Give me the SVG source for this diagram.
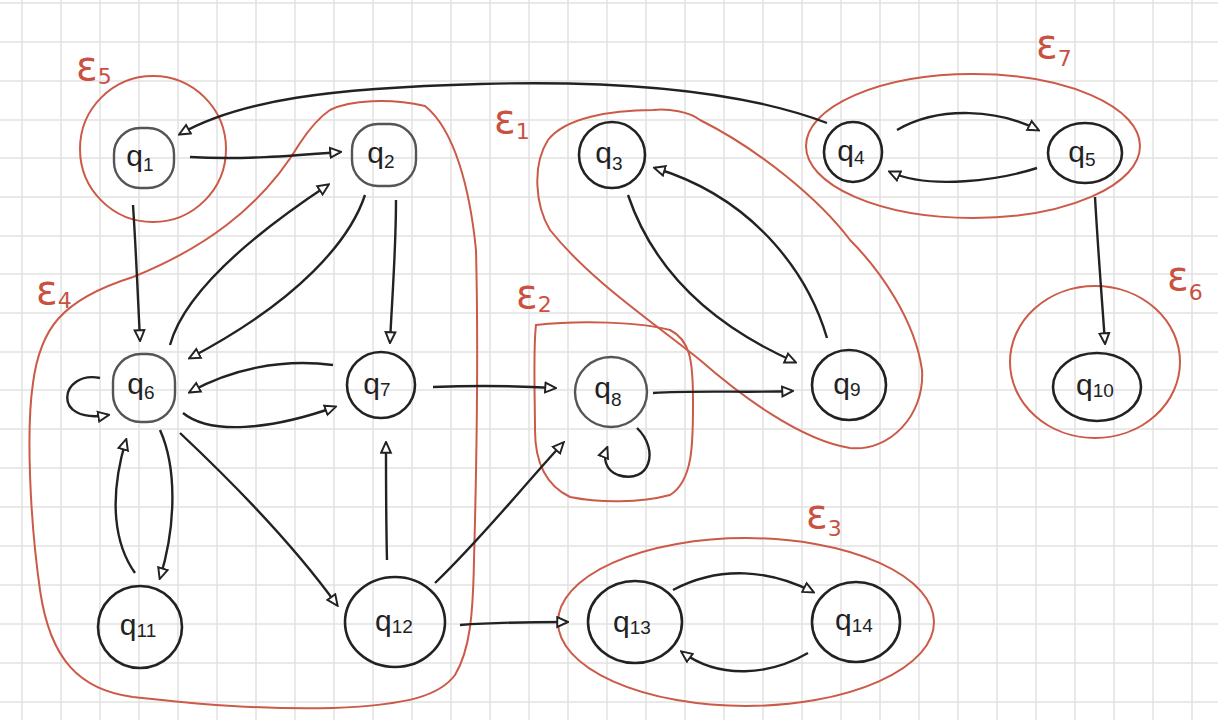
<svg xmlns="http://www.w3.org/2000/svg" width="1218" height="720" viewBox="0 0 1218 720">
<defs>
<style>
.grid{stroke:#e2e2e2;stroke-width:1.5;fill:none}
.cl{fill:none;stroke:#cc5a48;stroke-width:2}
.lab{fill:#c9513f;font-family:"DejaVu Sans",sans-serif;font-size:40px}
.sub{font-size:22px}
.nd{fill:none;stroke:#222;stroke-width:2.6}
.ndg{fill:none;stroke:#555;stroke-width:2.4}
.nt{fill:#222;font-family:"Liberation Sans",sans-serif;font-size:30px;text-anchor:middle}
.nts{font-size:19px}
.e{fill:none;stroke:#222;stroke-width:2.4;marker-end:url(#ah)}
</style>
<marker id="ah" viewBox="0 0 12 12" refX="10" refY="6" markerWidth="13" markerHeight="13" markerUnits="userSpaceOnUse" orient="auto">
<path d="M1,1.5 L11,6 L1,10.5 z" fill="#fff" stroke="#222" stroke-width="1.8"/>
</marker>
</defs>
<rect width="1218" height="720" fill="#fff"/>
<path class="grid" d="M22 0V720M61 0V720M100 0V720M139 0V720M178 0V720M217 0V720M256 0V720M295 0V720M334 0V720M373 0V720M412 0V720M451 0V720M490 0V720M529 0V720M568 0V720M607 0V720M646 0V720M685 0V720M724 0V720M763 0V720M802 0V720M841 0V720M880 0V720M919 0V720M958 0V720M997 0V720M1036 0V720M1075 0V720M1114 0V720M1153 0V720M1192 0V720
M0 3H1218M0 42H1218M0 81H1218M0 120H1218M0 158H1218M0 197H1218M0 236H1218M0 274H1218M0 313H1218M0 352H1218M0 390H1218M0 429H1218M0 468H1218M0 507H1218M0 546H1218M0 585H1218M0 624H1218M0 663H1218M0 702H1218"/>

<g id="clusters">
<g id="E5"><ellipse class="cl" cx="153" cy="149" rx="73" ry="73"/><text class="lab" x="76" y="80">ε<tspan class="sub" dy="4">5</tspan></text></g>
<g id="E4"><path class="cl" d="M330 110 C350 100 390 98 425 106 C455 130 470 190 476 250 C478 330 477 450 474 560 C473 615 470 650 455 675 C440 695 410 705 333 708 C250 710 180 702 133 697 C80 690 50 660 40 590 C30 520 26 430 33 383 C40 330 60 300 133 277 C200 250 260 210 300 143 C310 128 318 118 330 110 Z"/><text class="lab" x="36" y="304">ε<tspan class="sub" dy="4">4</tspan></text></g>
<g id="E1"><path class="cl" d="M653 110 C610 110 565 118 548 140 C532 165 535 205 550 230 C590 280 650 320 700 360 C740 395 800 440 850 448 C890 452 925 415 922 370 C915 320 880 270 850 240 C820 200 760 150 700 120 C690 112 668 108 653 110 Z"/><text class="lab" x="494" y="133">ε<tspan class="sub" dy="6">1</tspan></text></g>
<g id="E2"><path class="cl" d="M536 325 C580 320 640 322 670 330 C690 340 693 360 693 400 C693 440 694 480 670 495 C640 503 600 503 570 497 C545 485 535 460 535 430 C535 400 533 350 536 325 Z"/><text class="lab" x="516" y="308">ε<tspan class="sub" dy="4">2</tspan></text></g>
<g id="E7"><ellipse class="cl" cx="973" cy="146" rx="167" ry="72"/><text class="lab" x="1036" y="58">ε<tspan class="sub" dy="8">7</tspan></text></g>
<g id="E6"><ellipse class="cl" cx="1095" cy="362" rx="85" ry="76"/><text class="lab" x="1167" y="290">ε<tspan class="sub" dy="10">6</tspan></text></g>
<g id="E3"><ellipse class="cl" cx="746" cy="622" rx="188" ry="84"/><text class="lab" x="806" y="528">ε<tspan class="sub" dy="8">3</tspan></text></g>
</g>

<g id="connectors">
<path class="e" d="M827 123 C740 90 620 80 480 84 C330 88 240 100 180 134"/>
<path class="e" d="M190 157 C240 160 290 156 340 152"/>
<path class="e" d="M133 205 C136 250 138 300 140 340"/>
<path class="e" d="M170 345 C185 290 260 230 328 185"/>
<path class="e" d="M365 195 C350 240 300 300 190 358"/>
<path class="e" d="M396 200 C396 250 392 300 390 342"/>
<path class="e" d="M333 365 C280 358 230 370 190 392"/>
<path class="e" d="M183 413 C210 435 270 430 335 407"/>
<path class="e" d="M100 378 C60 370 50 425 108 415"/>
<path class="e" d="M135 573 C115 545 108 500 126 440"/>
<path class="e" d="M160 430 C178 470 175 530 160 578"/>
<path class="e" d="M180 433 C230 480 290 540 337 605"/>
<path class="e" d="M387 560 C386 520 386 480 386 443"/>
<path class="e" d="M435 583 C480 540 520 490 563 443"/>
<path class="e" d="M433 387 C480 385 520 386 555 388"/>
<path class="e" d="M637 428 C660 450 650 485 618 475 C605 470 603 458 607 448"/>
<path class="e" d="M653 393 C700 390 750 393 792 391"/>
<path class="e" d="M628 195 C650 260 700 320 795 362"/>
<path class="e" d="M827 338 C810 280 760 200 655 168"/>
<path class="e" d="M897 130 C940 105 1000 110 1038 130"/>
<path class="e" d="M1037 168 C1000 180 930 190 890 172"/>
<path class="e" d="M1095 197 C1098 250 1102 300 1105 343"/>
<path class="e" d="M460 625 C500 622 530 622 567 622"/>
<path class="e" d="M673 590 C720 565 770 570 813 592"/>
<path class="e" d="M808 653 C770 675 720 680 682 652"/>
</g>

<g id="q1"><rect class="ndg" x="114" y="128" width="60" height="60" rx="26"/><text class="nt" x="140" y="166">q<tspan class="nts" dy="5">1</tspan></text></g>
<g id="q2"><rect class="ndg" x="352" y="124" width="64" height="62" rx="26"/><text class="nt" x="381" y="163">q<tspan class="nts" dy="5">2</tspan></text></g>
<g id="q3"><ellipse class="nd" cx="612" cy="155" rx="33" ry="33"/><text class="nt" x="609" y="163">q<tspan class="nts" dy="7">3</tspan></text></g>
<g id="q4"><ellipse class="nd" cx="853" cy="152" rx="29" ry="30"/><text class="nt" x="851" y="161">q<tspan class="nts" dy="3">4</tspan></text></g>
<g id="q5"><ellipse class="nd" cx="1085" cy="153" rx="37" ry="30"/><text class="nt" x="1082" y="162">q<tspan class="nts" dy="4">5</tspan></text></g>
<g id="q6"><rect class="ndg" x="113" y="354" width="62" height="68" rx="28"/><text class="nt" x="141" y="394">q<tspan class="nts" dy="5">6</tspan></text></g>
<g id="q7"><ellipse class="nd" cx="381" cy="385" rx="34" ry="33"/><text class="nt" x="377" y="394">q<tspan class="nts" dy="2">7</tspan></text></g>
<g id="q8"><ellipse class="ndg" cx="611" cy="392" rx="36" ry="35"/><text class="nt" x="608" y="398">q<tspan class="nts" dy="8">8</tspan></text></g>
<g id="q9"><ellipse class="nd" cx="849" cy="385" rx="37" ry="35"/><text class="nt" x="847" y="394">q<tspan class="nts" dy="2">9</tspan></text></g>
<g id="q10"><ellipse class="nd" cx="1097" cy="387" rx="44" ry="34"/><text class="nt" x="1095" y="395">q<tspan class="nts" dy="2">10</tspan></text></g>
<g id="q11"><ellipse class="nd" cx="140" cy="627" rx="42" ry="41"/><text class="nt" x="138" y="635">q<tspan class="nts" dy="2">11</tspan></text></g>
<g id="q12"><ellipse class="nd" cx="395" cy="622" rx="50" ry="45"/><text class="nt" x="394" y="631">q<tspan class="nts" dy="2">12</tspan></text></g>
<g id="q13"><ellipse class="nd" cx="635" cy="622" rx="47" ry="41"/><text class="nt" x="632" y="632">q<tspan class="nts" dy="2">13</tspan></text></g>
<g id="q14"><ellipse class="nd" cx="856" cy="622" rx="44" ry="40"/><text class="nt" x="854" y="630">q<tspan class="nts" dy="2">14</tspan></text></g>
</svg>
